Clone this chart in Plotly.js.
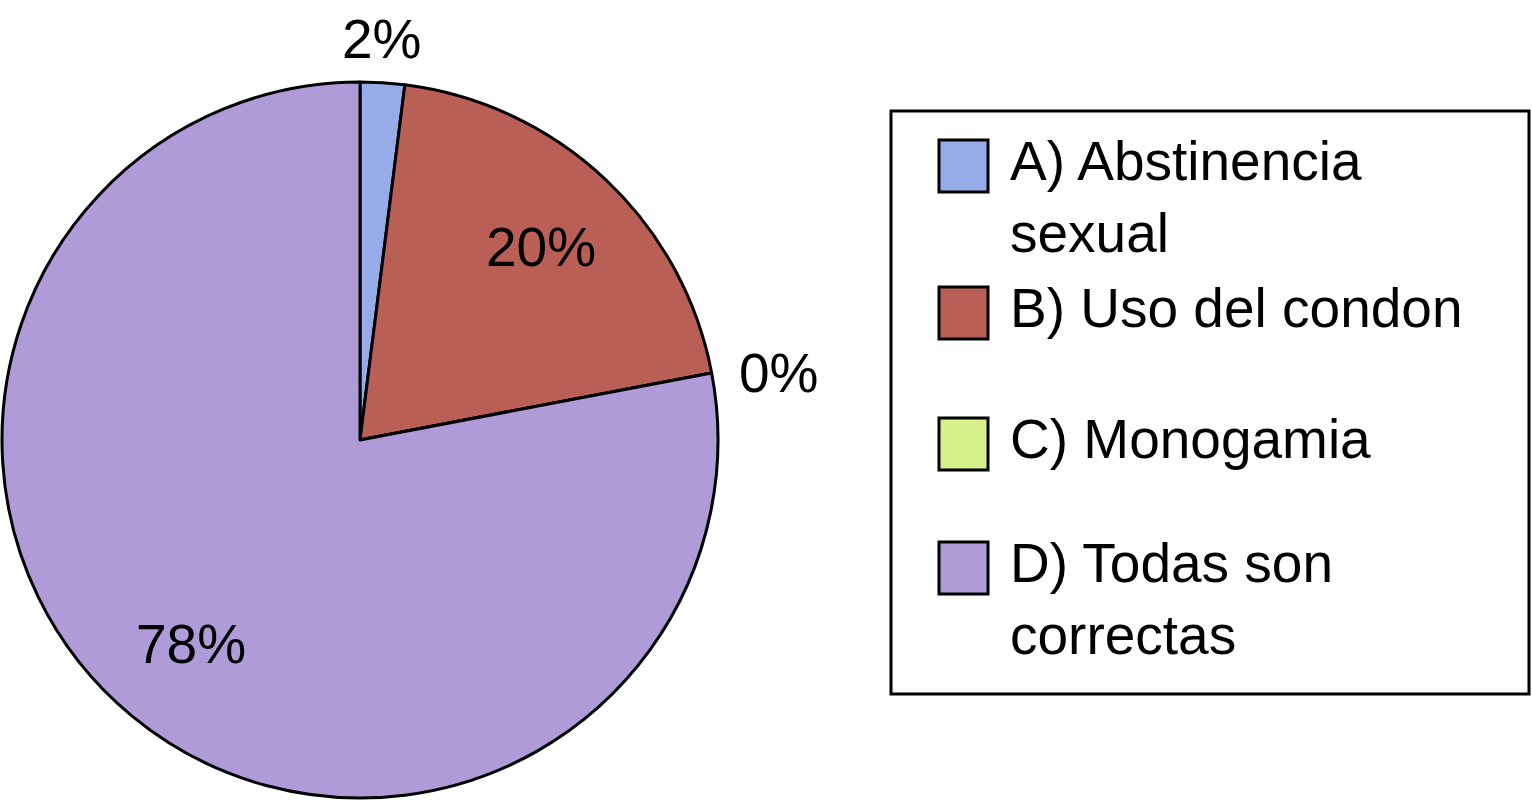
<!DOCTYPE html>
<html>
<head>
<meta charset="utf-8">
<script src="https://cdn.plot.ly/plotly-3.0.1.min.js"></script>
<style>html,body{margin:0;padding:0;background:#fff;}#chart{width:1532px;height:800px;}</style>
</head>
<body>
<div id="chart"></div>
<script>
// ---- data ----
const categories = ["A) Abstinencia<br>sexual", "B) Uso del condon", "C) Monogamia", "D) Todas son<br>correctas"];
const values = [2, 20, 0, 78];
const colors = ["#95ACE8", "#BA5F56", "#D8F08C", "#AE9BD8"];

// ---- layout constants ----
const W = 1532, H = 800;
const cx = 360, cy = 440, R = 358;
const FONT = '"Liberation Sans", Arial, Helvetica, sans-serif';
const FS = 55;

const total = values.reduce((a, b) => a + b, 0);

const trace = {
  type: 'pie',
  labels: categories,
  values: values,
  sort: false,
  direction: 'clockwise',
  rotation: 0,
  textinfo: 'none',
  hoverinfo: 'label+percent',
  marker: {colors: colors, line: {color: '#000', width: 3}},
  domain: {x: [(cx - R) / W, (cx + R) / W], y: [(H - cy - R) / H, (H - cy + R) / H]},
  showlegend: false
};

// percentage labels computed from values
const annotations = [];
let cum = 0;
values.forEach((v, i) => {
  const frac = v / total;
  const mid = 2 * Math.PI * (cum + frac / 2);
  cum += frac;
  const outside = frac < 0.05;
  const k = outside ? 1.0 : 0.74;
  const s = Math.sin(mid), c = Math.cos(mid);
  const px = cx + k * R * s;
  const py = cy - k * R * c;
  let xa = 'center', ya = 'middle', xs = 0, ys = 0;
  if (outside) {
    if (s > 0.5) { xa = 'left'; xs = 26; } else if (s < -0.5) { xa = 'right'; xs = -26; }
    if (c > 0.5) { ya = 'bottom'; ys = 12; } else if (c < -0.5) { ya = 'top'; ys = -12; }
  }
  annotations.push({
    xref: 'paper', yref: 'paper', x: px / W, y: 1 - py / H,
    xanchor: xa, yanchor: ya, xshift: xs, yshift: ys, showarrow: false, borderpad: 0,
    text: Math.round(frac * 100) + '%',
    font: {family: FONT, size: FS, color: '#000'}
  });
});

// custom legend built from categories / colors
const shapes = [{
  type: 'rect', xref: 'paper', yref: 'paper',
  x0: 891 / W, x1: 1529 / W, y0: 1 - 694 / H, y1: 1 - 111 / H,
  line: {color: '#000', width: 3}, fillcolor: 'rgba(0,0,0,0)'
}];
const rowCenters = [166, 313, 444, 568];
categories.forEach((lab, i) => {
  const yc = rowCenters[i];
  shapes.push({
    type: 'rect', xref: 'paper', yref: 'paper',
    x0: 939 / W, x1: 988 / W, y0: 1 - (yc + 26) / H, y1: 1 - (yc - 26) / H,
    line: {color: '#000', width: 3}, fillcolor: colors[i]
  });
  annotations.push({
    xref: 'paper', yref: 'paper', x: 1009 / W, y: 1 - (yc - 37) / H,
    xanchor: 'left', yanchor: 'top', align: 'left', showarrow: false,
    borderpad: 0,
    text: lab,
    font: {family: FONT, size: FS, color: '#000'}
  });
});

const layout = {
  width: W, height: H,
  margin: {l: 0, r: 0, t: 0, b: 0},
  paper_bgcolor: '#fff', plot_bgcolor: '#fff',
  showlegend: false,
  annotations: annotations,
  shapes: shapes,
  font: {family: FONT}
};

Plotly.newPlot('chart', [trace], layout, {displayModeBar: false, staticPlot: true});
</script>
</body>
</html>
